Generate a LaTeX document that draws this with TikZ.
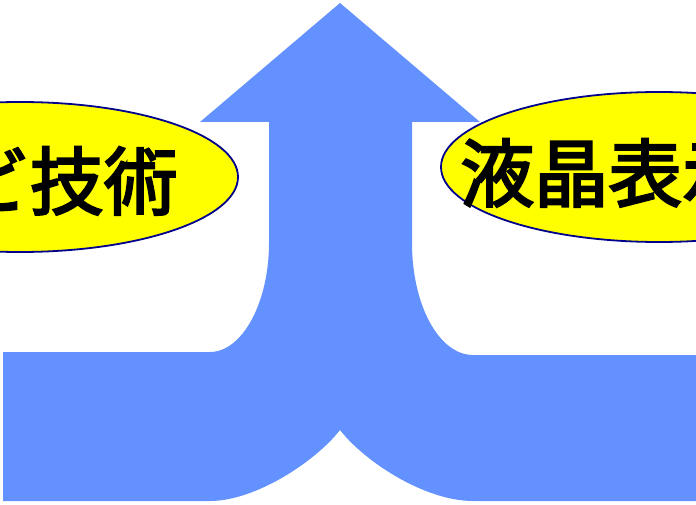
\documentclass[tikz,border=0pt]{standalone}
\usepackage{fontspec}
\newfontfamily\cjk{Noto Sans CJK JP}[BoldFont={Noto Sans CJK JP}, BoldFeatures={FakeBold=3}]
\definecolor{arrowblue}{RGB}{99,145,255}
\definecolor{ellyellow}{RGB}{255,255,0}
\definecolor{ellnavy}{RGB}{0,0,140}
\tikzset{
  bubble/.style={fill=ellyellow, draw=ellnavy, line width=1.8pt},
  bubbletext/.style={inner sep=0pt, font=\cjk\bfseries\fontsize{74}{80}\selectfont, text=black}
}
\begin{document}
\begin{tikzpicture}[x=1pt,y=-1pt]
\useasboundingbox (0,0) rectangle (696,505);
\clip (0,0) rectangle (696,505);
% merging arrow
\fill[arrowblue] (340,3) -- (480,122) -- (412,122) -- (412,243)
  .. controls (412,305) and (439,355) .. (473,355) -- (700,355) -- (700,501) -- (473,501)
  .. controls (425,501) and (365,462) .. (340,430)
  .. controls (315,462) and (255,501) .. (210,501) -- (3,501) -- (3,352) -- (210,352)
  .. controls (242,352) and (269,303) .. (269,243) -- (269,122) -- (200,122) -- cycle;
% ellipses
\path[bubble] (20,177) ellipse [x radius=218, y radius=75];
\path[bubble] (659,167) ellipse [x radius=218, y radius=75];
\node[bubbletext, anchor=base east] (lt) at (178,209) {テレビ技術};
\node[bubbletext, anchor=base west] (rt) at (460,201) {液晶表示};
\end{tikzpicture}
\end{document}
